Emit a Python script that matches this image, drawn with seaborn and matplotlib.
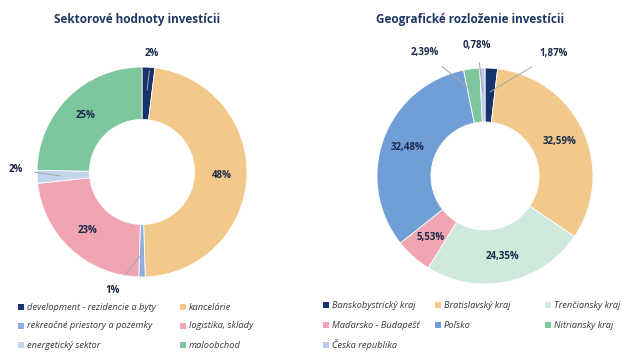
import matplotlib
matplotlib.use("Agg")
import numpy as np
import seaborn as sns
import matplotlib.pyplot as plt
from matplotlib.patches import Rectangle

# Left donut - sector split
sector_labels = ["development - rezidencie a byty", "kancelárie", "rekreačné priestory a pozemky",
                 "logistika, sklady", "energetický sektor", "maloobchod"]
sector_values = [2, 48, 1, 23, 2, 25]
sector_text = ["2%", "48%", "1%", "23%", "2%", "25%"]
sector_colors = ["#16336b", "#f2c98a", "#8eaee3", "#f1a5b2", "#c3d5ec", "#7ec79e"]

# Right donut - geographic split
geo_labels = ["Banskobystrický kraj", "Bratislavský kraj", "Trenčiansky kraj",
              "Maďarsko - Budapešť", "Poľsko", "Nitriansky kraj", "Česka republika"]
geo_values = [1.87, 32.59, 24.35, 5.53, 32.48, 2.39, 0.78]
geo_text = ["1,87%", "32,59%", "24,35%", "5,53%", "32,48%", "2,39%", "0,78%"]
geo_colors = ["#16336b", "#f2c98a", "#cfeadd", "#f1a5b2", "#6f9fd6", "#7ec79e", "#b9cbec"]

sns.set_theme(style="white")
plt.rcParams["font.family"] = ["Open Sans", "DejaVu Sans"]

fig = plt.figure(figsize=(6.4, 3.6), dpi=100)
ax = fig.add_axes([0, 0, 1, 1])

navy = "#1f3864"
txt_dark = "#1b2a4a"


def donut(values, texts, colors, center, radius, outside):
    wedges, _ = ax.pie(values, colors=colors, startangle=90, counterclock=False,
                       center=center, radius=radius,
                       wedgeprops=dict(width=radius * 0.5, edgecolor="white", linewidth=0.6))
    for i, w in enumerate(wedges):
        mid = np.deg2rad((w.theta1 + w.theta2) / 2)
        if i in outside:
            r_lab, shift = outside[i]
            a = mid + np.deg2rad(shift)
            tx = center[0] + r_lab * radius * np.cos(a)
            ty = center[1] + r_lab * radius * np.sin(a)
            sx = center[0] + 0.78 * radius * np.cos(mid)
            sy = center[1] + 0.78 * radius * np.sin(mid)
            ax.annotate(texts[i], xy=(sx, sy), xytext=(tx, ty), ha="center", va="center",
                        fontsize=7, fontweight="bold", color=txt_dark,
                        arrowprops=dict(arrowstyle="-", color="#a6a6a6", lw=0.7,
                                        shrinkA=6, shrinkB=0))
        else:
            ax.text(center[0] + 0.76 * radius * np.cos(mid), center[1] + 0.76 * radius * np.sin(mid),
                    texts[i], ha="center", va="center", fontsize=7, fontweight="bold", color=txt_dark)


donut(sector_values, sector_text, sector_colors, (142, 188), 105,
      {0: (1.13, -1), 2: (1.16, -14), 4: (1.2, -3.7)})
donut(geo_values, geo_text, geo_colors, (485, 184), 108,
      {0: (1.3, -26), 6: (1.21, 2), 5: (1.27, 19)})

ax.set_xlim(0, 640)
ax.set_ylim(0, 360)
ax.set_aspect("equal")
ax.axis("off")

ax.text(137, 340, "Sektorové hodnoty investícii", ha="center", va="center",
        fontsize=8.5, fontweight="bold", color=navy)
ax.text(470, 340, "Geografické rozloženie investícii", ha="center", va="center",
        fontsize=8.5, fontweight="bold", color=navy)


# legends laid out row by row like the original
def legend_grid(labels, colors, col_x, row_y):
    ncol = len(col_x)
    for k, (lab, col) in enumerate(zip(labels, colors)):
        x = col_x[k % ncol]
        y = row_y[k // ncol]
        ax.add_patch(Rectangle((x, y - 3), 6, 6, facecolor=col, edgecolor="none"))
        ax.text(x + 9, y, lab, ha="left", va="center", fontsize=6.7, fontstyle="italic", color="#3a3a3a")


legend_grid(sector_labels, sector_colors, [18, 180], [53, 34, 15])
legend_grid(geo_labels, geo_colors, [323, 435, 545], [55, 35, 15])

fig.savefig("out.png", dpi=100)
